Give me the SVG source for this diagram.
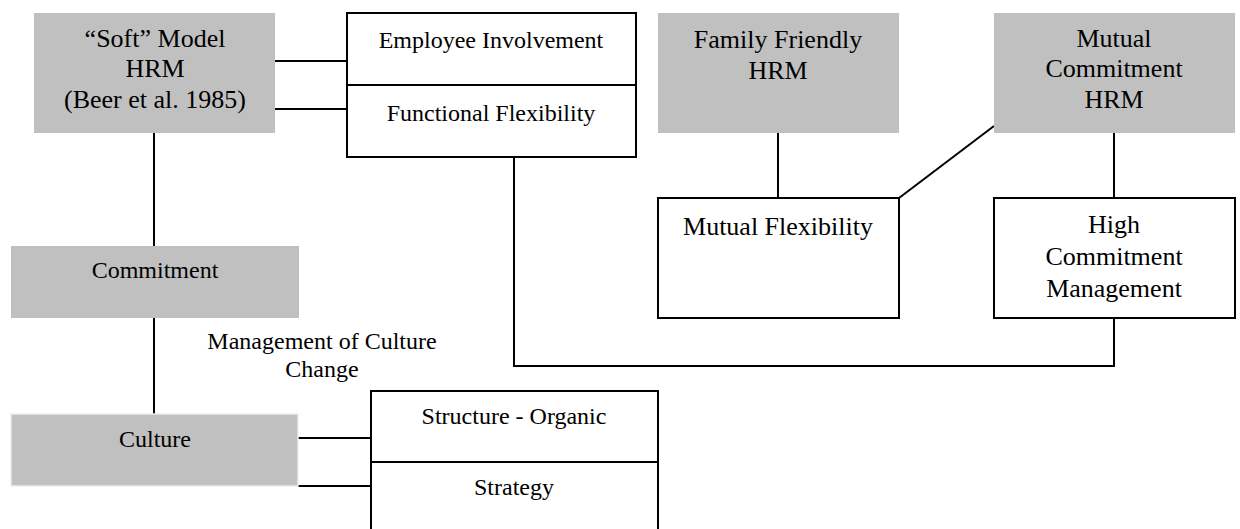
<svg xmlns="http://www.w3.org/2000/svg" width="1240" height="529" viewBox="0 0 1240 529">
<style>
.g{fill:#c0c0c0}
.w{fill:#fff;stroke:#000;stroke-width:2}
.t{font-family:"Liberation Serif","Times New Roman",serif;font-size:24px;fill:#000;text-anchor:middle}
.b{font-size:26px}
.c{stroke:#000;stroke-width:2;fill:none}
</style>
<rect width="1240" height="529" fill="#fff"/>
<g id="connectors">
<line class="c" x1="275" y1="61" x2="347" y2="61"/>
<line class="c" x1="275" y1="109" x2="347" y2="109"/>
<line class="c" x1="154" y1="125" x2="154" y2="246"/>
<line class="c" x1="154" y1="318" x2="154" y2="414"/>
<line class="c" x1="298" y1="438" x2="371" y2="438"/>
<line class="c" x1="298" y1="486" x2="371" y2="486"/>
<polyline class="c" points="514,150 514,366 1114,366 1114,318"/>
<line class="c" x1="778" y1="126" x2="778" y2="198"/>
<line class="c" x1="1114" y1="126" x2="1114" y2="198"/>
<line class="c" x1="994" y1="126" x2="899" y2="198"/>
</g>
<g id="soft">
<rect class="g" x="34" y="13" width="241" height="120"/>
<text class="t b" x="155" y="47">“Soft” Model</text>
<text class="t b" x="155" y="77">HRM</text>
<text class="t b" x="155" y="108">(Beer et al. 1985)</text>
</g>
<g id="employee">
<rect class="w" x="347" y="13" width="289" height="72"/>
<text class="t" x="491" y="48">Employee Involvement</text>
</g>
<g id="functional">
<rect class="w" x="347" y="85" width="289" height="72"/>
<text class="t" x="491" y="121">Functional Flexibility</text>
</g>
<g id="family">
<rect class="g" x="658" y="13" width="241" height="120"/>
<text class="t b" x="778" y="48">Family Friendly</text>
<text class="t b" x="778" y="79">HRM</text>
</g>
<g id="mutualcommitment">
<rect class="g" x="994" y="13" width="241" height="120"/>
<text class="t b" x="1114" y="47">Mutual</text>
<text class="t b" x="1114" y="77">Commitment</text>
<text class="t b" x="1114" y="108">HRM</text>
</g>
<g id="mutualflex">
<rect class="w" x="658" y="198" width="241" height="120"/>
<text class="t b" x="778" y="235">Mutual Flexibility</text>
</g>
<g id="highcommitment">
<rect class="w" x="994" y="198" width="241" height="120"/>
<text class="t b" x="1114" y="233">High</text>
<text class="t b" x="1114" y="265">Commitment</text>
<text class="t b" x="1114" y="297">Management</text>
</g>
<g id="commitment">
<rect class="g" x="11" y="246" width="288" height="72"/>
<text class="t" x="155" y="278">Commitment</text>
</g>
<g id="mocc">
<text class="t" x="322" y="349">Management of Culture</text>
<text class="t" x="322" y="377">Change</text>
</g>
<g id="culture">
<rect class="g" x="11" y="414" width="287" height="72" stroke="#ececec" stroke-width="1.5"/>
<text class="t" x="155" y="447">Culture</text>
</g>
<g id="structure">
<rect class="w" x="371" y="391" width="287" height="71"/>
<text class="t" x="514" y="424">Structure - Organic</text>
</g>
<g id="strategy">
<rect class="w" x="371" y="462" width="287" height="80"/>
<text class="t" x="514" y="495">Strategy</text>
</g>
</svg>
